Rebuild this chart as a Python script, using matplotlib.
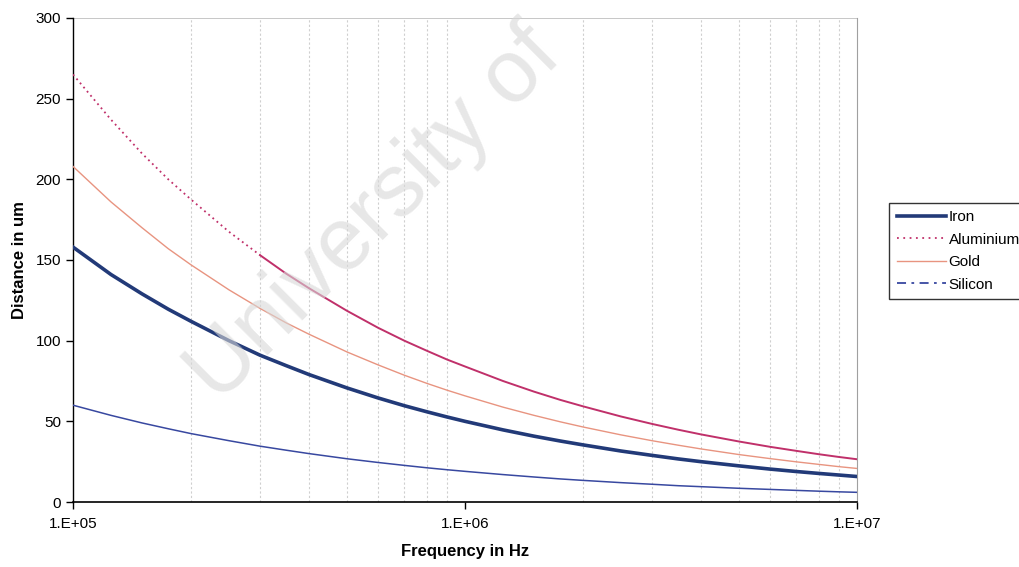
import matplotlib
matplotlib.use("Agg")
import matplotlib.pyplot as plt
from matplotlib.lines import Line2D

plt.rcParams['font.family'] = ['Liberation Sans', 'DejaVu Sans']

freq = [1e5, 1.25e5, 1.5e5, 1.75e5, 2e5, 2.5e5, 3e5, 3.5e5, 4e5, 5e5, 6e5, 7e5, 8e5, 9e5,
        1e6, 1.25e6, 1.5e6, 1.75e6, 2e6, 2.5e6, 3e6, 3.5e6, 4e6, 5e6, 6e6, 7e6, 8e6, 9e6, 1e7]
iron = [158, 141, 129, 119.5, 112, 100, 91, 84.5, 79, 70.7, 64.5, 59.7, 55.9, 52.7,
        50, 44.7, 40.8, 37.8, 35.4, 31.6, 28.9, 26.7, 25, 22.4, 20.4, 18.9, 17.7, 16.7, 15.8]
aluminium = [265, 237, 216, 200, 187.5, 167.5, 153, 141.5, 132.5, 118.5, 108, 100, 93.7, 88.3,
             84, 75, 68.4, 63.3, 59.3, 53, 48.4, 44.8, 41.9, 37.5, 34.2, 31.7, 29.6, 27.9, 26.5]
gold = [208, 186, 170, 157, 147, 131.5, 120, 111, 104, 93, 85, 78.6, 73.5, 69.3,
        65.8, 58.8, 53.7, 49.7, 46.5, 41.6, 38, 35.2, 32.9, 29.4, 26.9, 24.9, 23.3, 21.9, 20.8]
silicon = [60, 53.7, 49, 45.4, 42.4, 38, 34.6, 32.1, 30, 26.8, 24.5, 22.7, 21.2, 20,
           19, 17, 15.5, 14.3, 13.4, 12, 11, 10.1, 9.5, 8.5, 7.8, 7.2, 6.7, 6.3, 6.0]
series_names = ['Iron', 'Aluminium', 'Gold', 'Silicon']
yticks = [0, 50, 100, 150, 200, 250, 300]
xticks = [1e5, 1e6, 1e7]
xticklabels = ['1.E+05', '1.E+06', '1.E+07']

c_iron = '#223a78'
c_al = '#c0306a'
c_gold = '#e89480'
c_si = '#3848a0'

fig = plt.figure(figsize=(10.2, 5.67), dpi=100)
ax = fig.add_axes([73/1020, 1-502/567, (857-73)/1020, (502-18)/567])

ax.set_xscale('log')
ax.set_xlim(1e5, 1e7)
ax.set_ylim(0, 300)

ax.xaxis.grid(True, which='minor', color='#cfcfcf', linestyle=(0, (2, 2)), linewidth=0.8)
ax.xaxis.grid(False, which='major')
ax.axhline(300, color='#bdbdbd', linewidth=1.2, zorder=1)

ax.plot(freq, silicon, color=c_si, linewidth=1.1, zorder=3)
ax.plot(freq, iron, color=c_iron, linewidth=2.6, zorder=4)
ax.plot(freq, gold, color=c_gold, linewidth=1.0, zorder=3)
ax.plot(freq[:7], aluminium[:7], color=c_al, linewidth=1.3, linestyle=(0, (1, 2)), zorder=3)
ax.plot(freq[6:], aluminium[6:], color=c_al, linewidth=1.4, zorder=3)

ax.spines['top'].set_visible(False)
ax.spines['right'].set_color('#a0a0a0')
ax.spines['left'].set_color('black')
ax.spines['bottom'].set_color('black')
ax.spines['left'].set_linewidth(1.0)
ax.spines['bottom'].set_linewidth(1.2)

ax.set_yticks(yticks)
ax.set_xticks(xticks)
ax.set_xticklabels(xticklabels)
ax.minorticks_on()
ax.yaxis.set_minor_locator(matplotlib.ticker.NullLocator())
ax.tick_params(axis='both', which='major', direction='out', length=5, labelsize=11, width=1)
ax.tick_params(axis='x', which='minor', length=0)
ax.tick_params(axis='x', which='major', pad=6)

ax.set_xlabel('Frequency in Hz', fontsize=12, fontweight='bold', labelpad=9)
ax.set_ylabel('Distance in um', fontsize=12, fontweight='bold', labelpad=6)

handles = [
    Line2D([], [], color=c_iron, linewidth=2.6),
    Line2D([], [], color=c_al, linewidth=1.3, linestyle=(0, (1, 2.5))),
    Line2D([], [], color=c_gold, linewidth=1.0),
    Line2D([], [], color=c_si, linewidth=1.3, linestyle=(0, (5, 3, 1.5, 3))),
]
leg = fig.legend(handles, series_names, loc='center left',
                 bbox_to_anchor=(889/1020, 1-251/567), fontsize=11,
                 frameon=True, fancybox=False, edgecolor='black',
                 handlelength=3.2, handletextpad=0.2, borderpad=0.5,
                 labelspacing=0.55, borderaxespad=0)
leg.get_frame().set_linewidth(1.0)

fig.text(375/1020, 1-215/567, 'University of', fontsize=64, color='#d8d8d8', alpha=0.6,
         rotation=45, ha='center', va='center', zorder=10)

fig.savefig('out.png', dpi=100)
